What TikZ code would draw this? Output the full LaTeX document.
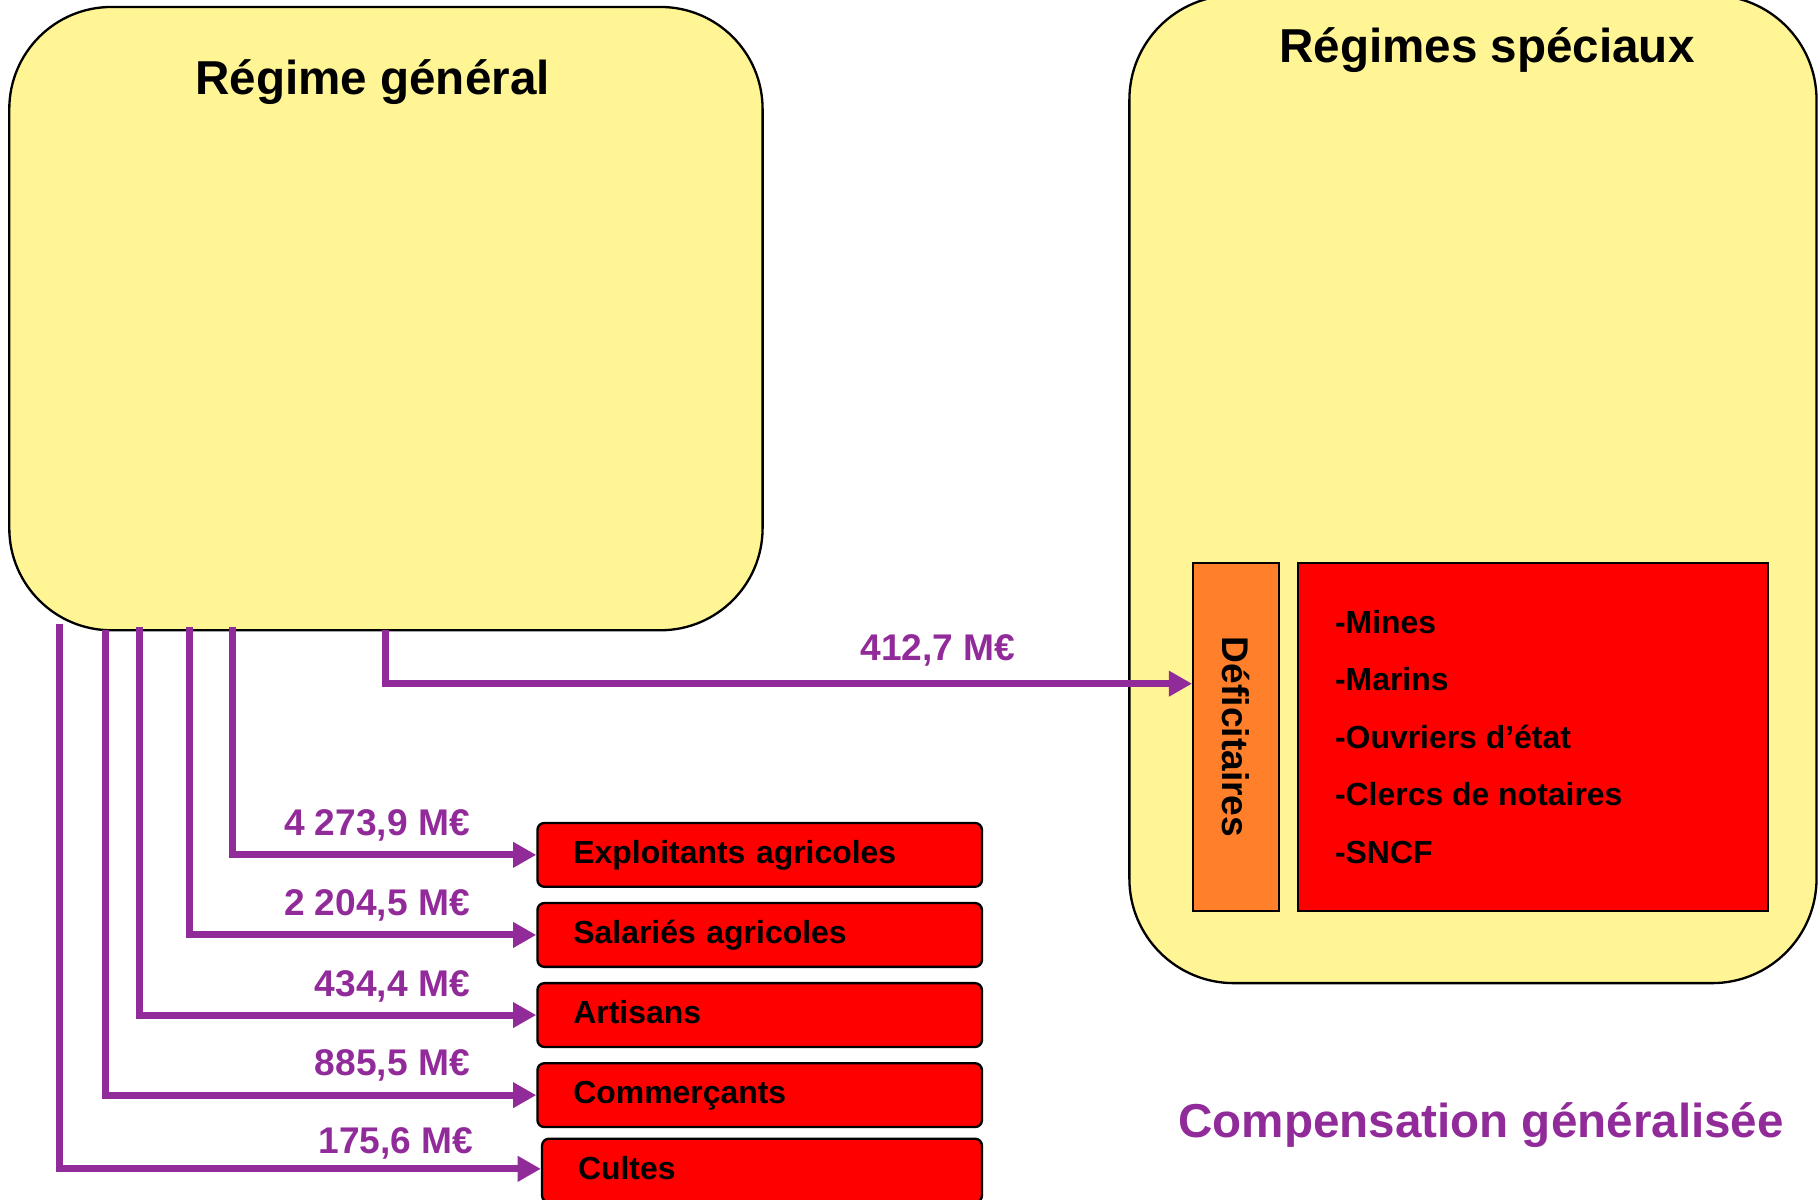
\documentclass[tikz,border=0pt]{standalone}
\usepackage{fontspec}
\setmainfont{Liberation Sans}
\usetikzlibrary{arrows.meta,calc}
\definecolor{ylw}{HTML}{FFF594}
\definecolor{purp}{HTML}{922B9A}
\definecolor{orng}{HTML}{FF7F2A}
\definecolor{rd}{HTML}{FF0000}
\tikzset{
  bigbox/.style={draw=black,line width=2pt,fill=ylw,rounded corners=88pt,inner sep=0pt},
  title/.style={anchor=base,font=\fontsize{41}{49}\selectfont\bfseries},
  catbox/.style={draw=black,line width=2pt,fill=rd,rounded corners=6pt,minimum height=55pt,
     inner xsep=31pt,inner ysep=0pt,text width=321pt,align=left,text height=19.7pt,text depth=4.7pt,
     font=\fontsize{27.5}{33}\selectfont\bfseries},
  amount/.style={anchor=base east,text=purp,font=\fontsize{32}{38}\selectfont\bfseries,inner sep=0pt},
  item/.style={anchor=base west,font=\fontsize{27.5}{33}\selectfont\bfseries,inner sep=0pt},
  flow/.style={draw=purp,line width=6pt,-{Triangle[length=20pt,width=21pt]}}
}
\begin{document}
\begin{tikzpicture}[x=1pt,y=-1pt]
\useasboundingbox (0,0) rectangle (1568,1033);
% big boxes
\node[bigbox,minimum width=649pt,minimum height=537pt] (RG) at (332.5,274.5) {};
\node[title] (RGt) at (321,81) {Régime général};
\node[bigbox,rounded corners=90pt,minimum width=592pt,minimum height=851pt] (RS) at (1269,421.5) {};
\node[title] (RSt) at (1281,54) {Régimes spéciaux};
% special regimes inner boxes
\node[draw=black,line width=2pt,fill=orng,minimum width=74pt,minimum height=300pt,inner sep=0pt] (Def) at (1065,635) {};
\node[rotate=-90,font=\fontsize{32}{38}\selectfont\bfseries,inner sep=0pt] (Deft) at (1065,635) {Déficitaires};
\node[draw=black,line width=2pt,fill=rd,minimum width=405pt,minimum height=300pt,inner sep=0pt] (List) at (1320.5,635) {};
\node[item] (i1) at (1150,545.5) {-Mines};
\node[item] (i2) at (1150,595) {-Marins};
\node[item] (i3) at (1150,644.5) {-Ouvriers d’état};
\node[item] (i4) at (1150,694) {-Clercs de notaires};
\node[item] (i5) at (1150,743.5) {-SNCF};
% category boxes
\node[catbox] (E) at (654.5,736.5) {Exploitants agricoles};
\node[catbox] (S) at (654.5,805.5) {Salariés agricoles};
\node[catbox] (A) at (654.5,874.5) {Artisans};
\node[catbox] (C) at (654.5,943.5) {Commerçants};
\node[catbox,text width=317pt] (Cu) at (656.5,1008.5) {Cultes};
% start points
\coordinate (s1) at (200,540);
\coordinate (s2) at (163,540);
\coordinate (s3) at (120,540);
\coordinate (s4) at (91,543);
\coordinate (s5) at (51,537.5);
\coordinate (s6) at (332,543);
% flows
\draw[flow] (s1) |- (E.west);
\draw[flow] (s2) |- (S.west);
\draw[flow] (s3) |- (A.west);
\draw[flow] (s4) |- (C.west);
\draw[flow] (s5) |- ($(Cu.west)+(0,-1.5)$);
\draw[flow] (s6) |- ($(Def.west)+(0,-46)$);
% amounts
\node[amount] (a1) at (405,720) {4 273,9 M€};
\node[amount] (a2) at (405,789) {2 204,5 M€};
\node[amount] (a3) at (405,858.5) {434,4 M€};
\node[amount] (a4) at (405,927) {885,5 M€};
\node[amount] (a5) at (408,993.5) {175,6 M€};
\node[amount] (a6) at (875,569) {412,7 M€};
% caption
\node[anchor=base,text=purp,font=\fontsize{41}{49}\selectfont\bfseries,inner sep=0pt] (cap) at (1276,980) {Compensation généralisée};
\end{tikzpicture}
\end{document}
